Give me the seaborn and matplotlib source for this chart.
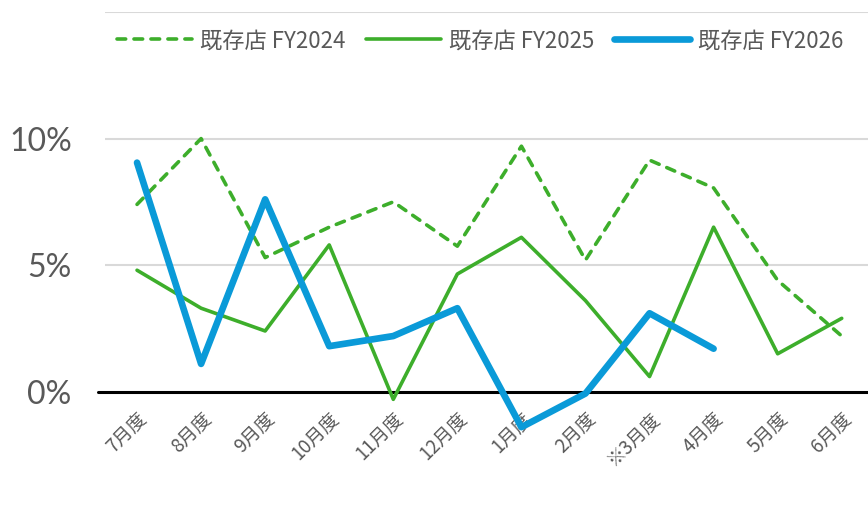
import numpy as np
import pandas as pd
import matplotlib
matplotlib.use("Agg")
import matplotlib.pyplot as plt
import seaborn as sns

months = ["7月度", "8月度", "9月度", "10月度", "11月度", "12月度",
          "1月度", "2月度", "※3月度", "4月度", "5月度", "6月度"]

# 既存店 前年比 (%)
fy2024 = [7.4, 10.0, 5.3, 6.5, 7.5, 5.75, 9.7, 5.2, 9.15, 8.05, 4.4, 2.2]
fy2025 = [4.8, 3.3, 2.4, 5.8, -0.3, 4.65, 6.1, 3.6, 0.6, 6.5, 1.5, 2.9]
fy2026 = [9.05, 1.1, 7.6, 1.8, 2.2, 3.3, -1.4, -0.07, 3.1, 1.7, np.nan, np.nan]

series_names = ["既存店 FY2024", "既存店 FY2025", "既存店 FY2026"]

GREEN = "#3DAE2B"
BLUE = "#0A9AD8"
GRAY = "#595959"
JP = ["Noto Sans CJK JP", "DejaVu Sans"]

sns.set_style("white")
plt.rcParams["font.family"] = JP

df = pd.DataFrame({"pos": np.arange(len(months))})
df[series_names[0]] = np.array(fy2024) / 100
df[series_names[1]] = np.array(fy2025) / 100
df[series_names[2]] = np.array(fy2026) / 100

fig = plt.figure(figsize=(8.68, 5.15), dpi=100)
ax = fig.add_axes([105 / 868, 0.0427, 1 - 105 / 868, 0.9340])

# gridlines
for g in [0.05, 0.10, 0.15]:
    ax.axhline(g, color="#d9d9d9", lw=1.5, zorder=0)

sns.lineplot(data=df, x="pos", y=series_names[0], ax=ax, color=GREEN, lw=2.6,
             linestyle=(0, (2.4, 2.3)), dash_capstyle="round",
             label=series_names[0], sort=False)
sns.lineplot(data=df, x="pos", y=series_names[1], ax=ax, color=GREEN, lw=2.6,
             label=series_names[1], sort=False)
sns.lineplot(data=df, x="pos", y=series_names[2], ax=ax, color=BLUE, lw=4.8,
             solid_capstyle="round", label=series_names[2], sort=False)

ax.axhline(0, xmin=-0.009, xmax=1, color="black", lw=2.2, clip_on=False, zorder=1)

ax.set_xlim(-0.5, 11.41)
ax.set_ylim(-0.04, 0.15)
ax.set_xlabel("")
ax.set_ylabel("")

for s in ax.spines.values():
    s.set_visible(False)
ax.spines["bottom"].set_position(("data", 0))

ax.set_yticks([0, 0.05, 0.10])
ax.set_yticklabels(["0%", "5%", "10%"], fontsize=23, color=GRAY,
                   family=["Lato", "DejaVu Sans"])
ax.tick_params(axis="y", length=0, pad=24)

ax.set_xticks(np.arange(len(months)))
ax.set_xticklabels(months, rotation=45, ha="right", rotation_mode="anchor",
                   fontsize=13.5, color=GRAY)
ax.tick_params(axis="x", length=0, pad=12)

ax.get_legend().remove()
handles, labels = ax.get_legend_handles_labels()
leg = fig.legend(handles, labels, loc="center", bbox_to_anchor=(0.553, 0.921),
                 ncol=3, frameon=False, fontsize=16, handlelength=3.4,
                 handletextpad=0.35, columnspacing=0.9)
for t in leg.get_texts():
    t.set_color(GRAY)

fig.savefig("out.png", dpi=100)
